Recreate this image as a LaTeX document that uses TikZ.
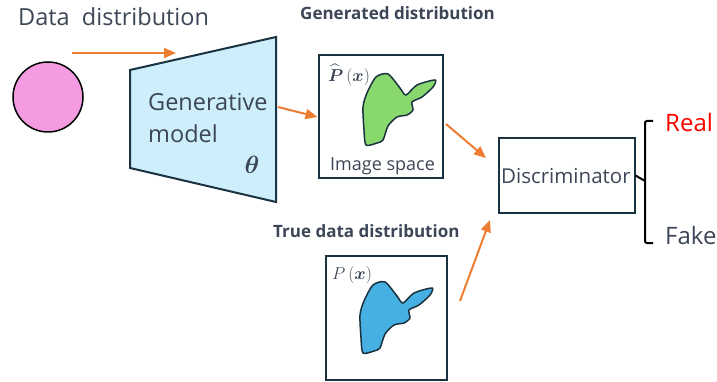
\documentclass[tikz,border=0pt]{standalone}
\usepackage{fontspec}
\usepackage{amsmath}
\setmainfont{Open Sans}
\usetikzlibrary{arrows.meta}
\definecolor{txt}{HTML}{3C4656}
\definecolor{edge}{HTML}{1B3240}
\definecolor{arrowc}{HTML}{ED7D31}
\definecolor{modelfill}{HTML}{CDEEFA}
\definecolor{pinkc}{HTML}{F59BE2}
\definecolor{greenc}{HTML}{89D86E}
\definecolor{bluec}{HTML}{45B0E1}
\tikzset{
  flow/.style={draw=arrowc, line width=2pt, -{Triangle[length=12pt,width=10pt]}},
  boxed/.style={draw=edge, line width=2pt, inner sep=0pt},
  lbl/.style={inner sep=0pt, anchor=base west, text=txt},
  big/.style={font=\fontsize{23.5}{26}\selectfont},
  head/.style={font=\bfseries\fontsize{17}{20}\selectfont},
  mathlbl/.style={inner sep=0pt, text=txt, font=\fontsize{17}{20}\selectfont},
  blob/.pic={
    \draw[draw=edge, line width=1.5pt, fill=#1]
      plot[smooth cycle, tension=0.45] coordinates {
        (376,77) (388,74) (400,88) (406,95) (417,85) (435,80) (433,87)
        (422,97) (412,102) (413,110) (407,115) (397,117) (388,126)
        (383,140) (377,143) (366,145) (364,130) (363,107) (367,93)};
  }
}
\begin{document}
\begin{tikzpicture}[x=1pt, y=-1pt]
\useasboundingbox (0,0) rectangle (717,382);

% input noise
\node[lbl, big] (datalbl) at (18,26) {Data\ \ distribution};
\coordinate (inA) at (72,53);
\coordinate (inB) at (176,53);
\draw[flow] (inA) -- (inB);
\node[circle, draw=black, line width=1.5pt, fill=pinkc, minimum size=70pt] (noise) at (48,97) {};

% generator
\coordinate (gTL) at (130,70);
\coordinate (gTR) at (276,37);
\coordinate (gBR) at (276,202);
\coordinate (gBL) at (130,168);
\draw[draw=edge, line width=2pt, fill=modelfill, line join=miter] (gTL) -- (gTR) -- (gBR) -- (gBL) -- cycle;
\node[lbl, big] (gen1) at (148,111) {Generative};
\node[lbl, big] (gen2) at (148,143) {model};
\node[inner sep=0pt, text=txt, font=\fontsize{28}{30}\selectfont] (theta) at (252,165) {$\boldsymbol{\theta}$};
\coordinate (gOut) at (278,107);

% generated distribution
\node[lbl, head] (genhead) at (300,20) {Generated distribution};
\node[boxed, minimum width=124pt, minimum height=123pt] (genbox) at (380.5,117) {};
\pic {blob=greenc};
\node[mathlbl] (phat) at (349,75) {$\widehat{\boldsymbol{P}}\,(\boldsymbol{x})$};
\node[lbl, font=\fontsize{18}{21}\selectfont] (imgsp) at (330,171) {Image space};
\draw[flow] (gOut) -- (genbox.west);

% true distribution
\node[lbl, head] (truehead) at (273,237) {True data distribution};
\node[boxed, minimum width=121pt, minimum height=124pt] (truebox) at (386,317.5) {};
\begin{scope}[shift={(-3,208)}]
  \pic {blob=bluec};
\end{scope}
\node[mathlbl, font=\fontsize{19}{22}\selectfont] (pp) at (352,275) {$P\,(\boldsymbol{x})$};

% discriminator
\node[boxed, minimum width=136pt, minimum height=74pt] (disc) at (566.5,175.5) {};
\node[lbl, font=\fontsize{20.5}{24}\selectfont] (disclbl) at (501,184) {Discriminator};
\coordinate (gA) at (446,124);
\coordinate (gB) at (486,158);
\draw[flow] (gA) -- (gB);
\coordinate (tA) at (460,301);
\coordinate (tB) at (490,220);
\draw[flow] (tA) -- (tB);

% decision bracket
\coordinate (bMid) at (645,181);
\draw[line width=2pt, line cap=round] (disc.east) -- (bMid);
\draw[line width=2pt, rounded corners=2pt] (653,121) -- (645,121) -- (645,243) -- (653,243);
\node[lbl, font=\fontsize{24}{27}\selectfont, text=red] (real) at (665,132) {Real};
\node[lbl, font=\fontsize{24}{27}\selectfont] (fake) at (665,244) {Fake};
\end{tikzpicture}
\end{document}
